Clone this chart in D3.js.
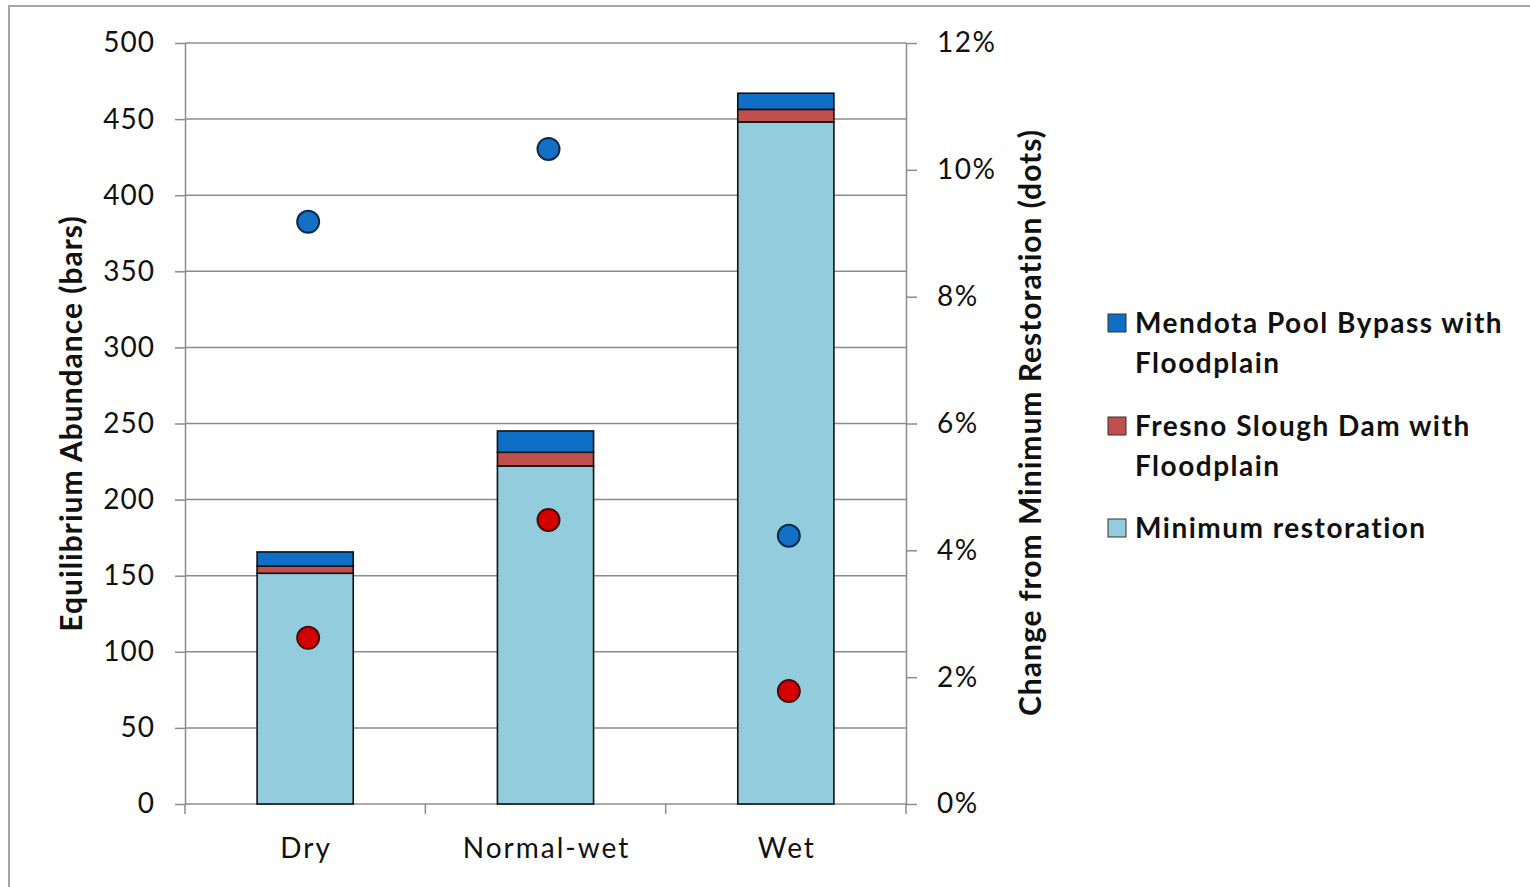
<!DOCTYPE html>
<html>
<head>
<meta charset="utf-8">
<script src="https://cdn.jsdelivr.net/npm/d3@7"></script>
<style>
  html, body { margin: 0; padding: 0; background: #fff; }
  svg { display: block; }
  text { font-family: Lato, "Open Sans", sans-serif; fill: #111; }
</style>
</head>
<body>
<svg id="chart" width="1530" height="887"></svg>
<script>
// Water-year categories
const categories = ["Dry", "Normal-wet", "Wet"];

// Stacked bar series (equilibrium abundance)
const seriesNames = ["Minimum restoration", "Fresno Slough Dam with Floodplain", "Mendota Pool Bypass with Floodplain"];
const minimumRestoration = [151.6, 222.1, 448.1];
const fresnoSloughDam = [4.8, 9.0, 8.3];
const mendotaPoolBypass = [9.2, 14.0, 10.6];

// Percentage change from minimum restoration (dots)
const mendotaChangePct = [9.18, 10.33, 4.23];
const fresnoChangePct = [2.62, 4.48, 1.78];

// Axis ticks
const leftTicks = [0, 50, 100, 150, 200, 250, 300, 350, 400, 450, 500];
const rightTicks = [0, 2, 4, 6, 8, 10, 12];

const colors = {
  "Minimum restoration": "#93cddd",
  "Fresno Slough Dam with Floodplain": "#c0504d",
  "Mendota Pool Bypass with Floodplain": "#0f6ec6"
};

const svg = d3.select("#chart");

// outer frame
svg.append("rect")
  .attr("x", 9).attr("y", 6)
  .attr("width", 1540).attr("height", 900)
  .attr("fill", "none").attr("stroke", "#a6a6a6").attr("stroke-width", 2);

const plot = { left: 185, right: 906, top: 43, bottom: 804 };

const x = d3.scaleBand().domain(categories).range([plot.left, plot.right]).paddingInner(0).paddingOuter(0);
const yL = d3.scaleLinear().domain([0, 500]).range([plot.bottom, plot.top]);
const yR = d3.scaleLinear().domain([0, 12]).range([plot.bottom, plot.top]);

// gridlines
svg.append("g").selectAll("line").data(leftTicks.filter(d => d > 0)).join("line")
  .attr("x1", plot.left).attr("x2", plot.right)
  .attr("y1", d => yL(d)).attr("y2", d => yL(d))
  .attr("stroke", "#8c8c8c").attr("stroke-width", 1.5);

// left axis
const leftAxis = svg.append("g").attr("transform", `translate(${plot.left},0)`)
  .call(d3.axisLeft(yL).tickValues(leftTicks).tickSize(10).tickPadding(20).tickSizeOuter(0));
leftAxis.select(".domain").attr("stroke", "#8c8c8c").attr("stroke-width", 1.5);
leftAxis.selectAll(".tick line").attr("stroke", "#8c8c8c").attr("stroke-width", 1.5);
leftAxis.selectAll(".tick text").style("font-size", "28px").style("font-family", "Lato, sans-serif")
  .style("letter-spacing", "1px").attr("fill", "#111");

// right axis
const rightAxis = svg.append("g").attr("transform", `translate(${plot.right},0)`)
  .call(d3.axisRight(yR).tickValues(rightTicks).tickFormat(d => d + "%").tickSize(11).tickPadding(20).tickSizeOuter(0));
rightAxis.select(".domain").attr("stroke", "#8c8c8c").attr("stroke-width", 1.5);
rightAxis.selectAll(".tick line").attr("stroke", "#8c8c8c").attr("stroke-width", 1.5);
rightAxis.selectAll(".tick text").style("font-size", "28px").style("font-family", "Lato, sans-serif")
  .style("letter-spacing", "1.5px").attr("fill", "#111");

// bottom axis line with category boundary ticks
svg.append("line")
  .attr("x1", plot.left).attr("x2", plot.right)
  .attr("y1", plot.bottom).attr("y2", plot.bottom)
  .attr("stroke", "#8c8c8c").attr("stroke-width", 1.5);
const boundaries = categories.map(c => x(c)).concat([x(categories[categories.length - 1]) + x.bandwidth()]);
svg.append("g").selectAll("line").data(boundaries).join("line")
  .attr("x1", d => d).attr("x2", d => d)
  .attr("y1", plot.bottom).attr("y2", plot.bottom + 10)
  .attr("stroke", "#8c8c8c").attr("stroke-width", 1.5);
svg.append("g").selectAll("text").data(categories).join("text")
  .attr("x", d => x(d) + x.bandwidth() / 2 + 1)
  .attr("y", 858)
  .attr("text-anchor", "middle")
  .style("font-size", "28px")
  .style("letter-spacing", "2px")
  .text(d => d);

// stacked bars
const rows = categories.map((c, i) => ({
  category: c,
  "Minimum restoration": minimumRestoration[i],
  "Fresno Slough Dam with Floodplain": fresnoSloughDam[i],
  "Mendota Pool Bypass with Floodplain": mendotaPoolBypass[i]
}));
const stacked = d3.stack().keys(seriesNames)(rows);
const barW = x.bandwidth() * 0.4;
svg.append("g").selectAll("g").data(stacked).join("g")
  .attr("fill", d => colors[d.key])
  .selectAll("rect").data(d => d).join("rect")
  .attr("x", d => x(d.data.category) + (x.bandwidth() - barW) / 2)
  .attr("width", barW)
  .attr("y", d => yL(d[1]))
  .attr("height", d => yL(d[0]) - yL(d[1]))
  .attr("stroke", "#111").attr("stroke-width", 1.6);

// dots
const dotSeries = [
  { values: mendotaChangePct, fill: "#1470c4", stroke: "#0b2a4a" },
  { values: fresnoChangePct, fill: "#d40000", stroke: "#4a0a0a" }
];
dotSeries.forEach(s => {
  svg.append("g").selectAll("circle").data(s.values).join("circle")
    .attr("cx", (d, i) => x(categories[i]) + x.bandwidth() / 2 + 3)
    .attr("cy", d => yR(d))
    .attr("r", 11)
    .attr("fill", s.fill)
    .attr("stroke", s.stroke).attr("stroke-width", 2);
});

// axis titles
svg.append("text")
  .attr("transform", `translate(82,${(215 + 632) / 2}) rotate(-90)`)
  .attr("text-anchor", "middle")
  .style("font-size", "30px").style("font-weight", "bold").style("letter-spacing", "1px")
  .text("Equilibrium Abundance (bars)");
svg.append("text")
  .attr("transform", `translate(1041,${(125 + 720) / 2}) rotate(-90)`)
  .attr("text-anchor", "middle")
  .style("font-size", "30px").style("font-weight", "bold").style("letter-spacing", "1px")
  .text("Change from Minimum Restoration (dots)");

// legend
const legendItems = [
  { key: "Mendota Pool Bypass with Floodplain", lines: ["Mendota Pool Bypass with", "Floodplain"], y: 323 },
  { key: "Fresno Slough Dam with Floodplain", lines: ["Fresno Slough Dam with", "Floodplain"], y: 426 },
  { key: "Minimum restoration", lines: ["Minimum restoration"], y: 528 }
];
const lg = svg.append("g");
legendItems.forEach(item => {
  lg.append("rect")
    .attr("x", 1108).attr("y", item.y - 9)
    .attr("width", 18).attr("height", 18)
    .attr("fill", colors[item.key])
    .attr("stroke", "#333").attr("stroke-width", 1);
  item.lines.forEach((ln, j) => {
    lg.append("text")
      .attr("x", 1135).attr("y", item.y + 10 + j * 40)
      .style("font-size", "28px").style("font-weight", "bold").style("letter-spacing", "1.5px")
      .text(ln);
  });
});
</script>
</body>
</html>
